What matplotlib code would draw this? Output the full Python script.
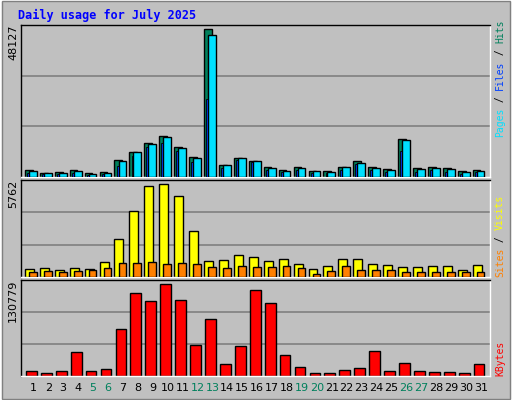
import matplotlib
matplotlib.use("Agg")
import matplotlib.pyplot as plt
from matplotlib.patches import Rectangle
import numpy as np

days = list(range(1, 32))
weekend = [5, 6, 12, 13, 19, 20, 26, 27]
hits = [2396,1416,1742,2396,1416,1742,5663,8276,11217,13177,9910,6643,48127,4029,6316,5336,3376,2396,3376,2069,2069,3376,5336,3376,2723,12197,3049,3376,3049,2069,2396]
pages = [2069,1416,1416,2069,1089,1416,5336,8276,10890,12850,9583,6316,46174,4029,6316,5336,3049,2069,3049,2069,1742,3376,4683,3049,2396,11870,2723,3049,2723,1742,2069]
files = [1307,871,1089,1307,762,980,3703,6970,9910,11217,8603,5009,25265,3049,5663,5009,2178,1525,2178,1307,1307,2178,4356,2178,1742,8603,1742,2178,1742,1089,1525]
visits = [520,582,458,582,520,957,2330,4077,5637,5762,5013,2829,1019,1082,1394,1269,1019,1144,832,520,707,1144,1144,832,770,645,645,707,707,458,770]
sites = [333,395,333,395,458,582,894,894,957,832,894,832,645,582,707,645,645,707,582,208,395,707,458,458,458,333,333,333,333,333,333]
kbytes = [7632,4770,7632,34821,7632,10494,66303,117819,106371,130779,107802,43407,80613,17649,41976,122112,103509,30528,13356,4770,4770,9063,11925,36252,7632,19080,7632,6201,6201,4770,17649]

BG = "#C0C0C0"
fig = plt.figure(figsize=(5.12, 4.0), dpi=100, facecolor=BG)
fig.patches.append(Rectangle((0, 0), 1, 1, transform=fig.transFigure, fill=False, edgecolor="white", lw=2))
fig.patches.append(Rectangle((0.003, 0.003), 0.994, 0.994, transform=fig.transFigure, fill=False, edgecolor="#808080", lw=1))

x = np.array(days)
L, W = 21/512, 469/512
def mkax(y0, y1):
    ax = fig.add_axes([L, 1 - y1/400, W, (y1 - y0)/400])
    ax.set_facecolor(BG)
    ax.set_xlim(0.176, 31.6)
    ax.set_xticks([])
    for s in ax.spines.values():
        s.set_color("black"); s.set_linewidth(1)
    ax.spines["right"].set_color("white"); ax.spines["bottom"].set_color("white")
    ax.tick_params(left=False, labelleft=False)
    return ax

mono = "DejaVu Sans Mono"
ek = dict(edgecolor="black", linewidth=1)
FS = 7.0
cw = 0.602 * FS * 100 / 72 / 400

def rlabel(parts, ybottom_px):
    pos = 1 - ybottom_px/400
    for s, c in parts:
        fig.text(500/512, pos, s, rotation=90, ha="center", va="bottom", fontsize=FS, family=mono, color=c)
        pos += len(s) * cw

ax1 = mkax(25, 177)
M1 = 48127 * 1.027
ax1.set_ylim(0, M1)
for g in (M1/3, 2*M1/3):
    ax1.axhline(g, color="#808080", lw=1.2, zorder=0)
ax1.bar(x - 0.56, hits, width=0.52, align="edge", color="#00805C", **ek, zorder=2)
ax1.bar(x - 0.42, files, width=0.13, align="edge", color="#0040FF", edgecolor="black", linewidth=0.6, zorder=3)
ax1.bar(x - 0.29, pages, width=0.52, align="edge", color="#00E0FF", **ek, zorder=4)
fig.text(13/512, 1 - 25/400, str(max(hits)), rotation=90, ha="center", va="top", fontsize=8, family="DejaVu Sans")
rlabel([("Pages", "#00E0FF"), (" / ", "black"), ("Files", "#0040FF"), (" / ", "black"), ("Hits", "#00805C")], 137)

ax2 = mkax(180, 277)
M2 = 5762 * 1.043
ax2.set_ylim(0, M2)
for g in (M2/3, 2*M2/3):
    ax2.axhline(g, color="#808080", lw=1.2, zorder=0)
ax2.bar(x - 0.56, visits, width=0.6, align="edge", color="#FFFF00", **ek, zorder=2)
ax2.bar(x - 0.29, sites, width=0.52, align="edge", color="#FF8000", **ek, zorder=3)
fig.text(13/512, 1 - 180/400, str(max(visits)), rotation=90, ha="center", va="top", fontsize=8, family="DejaVu Sans")
rlabel([("Sites", "#FF8000"), (" / ", "black"), ("Visits", "#FFFF00")], 277)

ax3 = mkax(280, 376)
M3 = 130779 * 1.044
ax3.set_ylim(0, M3)
for g in (M3/3, 2*M3/3):
    ax3.axhline(g, color="#808080", lw=1.2, zorder=0)
ax3.bar(x - 0.49, kbytes, width=0.72, align="edge", color="#FF0000", **ek, zorder=2)
fig.text(13/512, 1 - 280/400, str(max(kbytes)), rotation=90, ha="center", va="top", fontsize=8, family="DejaVu Sans")
rlabel([("KBytes", "#FF0000")], 376)

for d in days:
    fig.text(L + (d - 0.176)/(31.6 - 0.176)*W, 1 - 388/400, str(d), ha="center", va="center",
             fontsize=8, family="DejaVu Sans", color="#00805C" if d in weekend else "black")

fig.text(18/512, 1 - 15/400, "Daily usage for July 2025", ha="left", va="center", fontsize=8.5,
         family=mono, weight="bold", color="#0000FF")

fig.savefig("out.png", dpi=100, facecolor=BG)
